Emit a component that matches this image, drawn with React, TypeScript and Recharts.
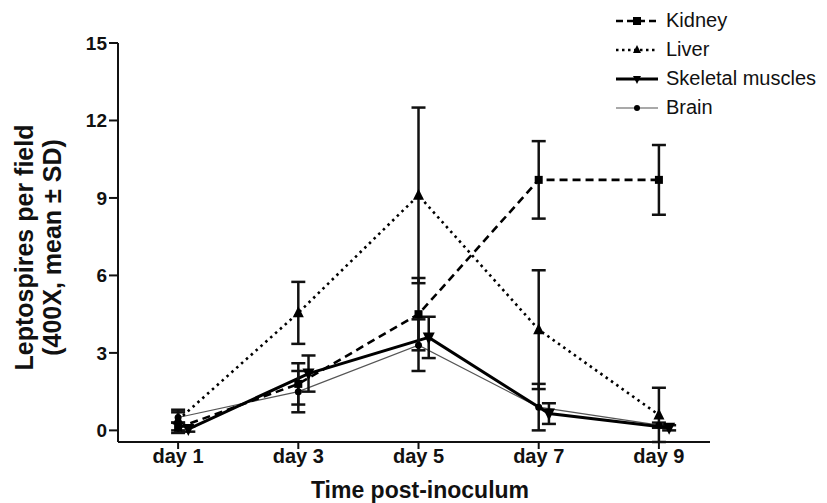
import React from "react";
import { LineChart, Line, XAxis, YAxis, ErrorBar } from "recharts";

const DAYS = [1, 3, 5, 7, 9];
const Y_TICKS = [0, 3, 6, 9, 12, 15];

const KIDNEY = [0.1, 1.8, 4.5, 9.7, 9.7];
const KIDNEY_SD = [0.2, 0.8, 1.4, 1.5, 1.35];
const LIVER = [0.4, 4.55, 9.1, 3.9, 0.6];
const LIVER_SD = [0.4, 1.2, 3.4, 2.3, 1.05];
const MUSCLE = [0.05, 2.2, 3.6, 0.65, 0.1];
const MUSCLE_SD = [0.1, 0.7, 0.8, 0.4, 0.1];
const BRAIN = [0.5, 1.5, 3.3, 0.9, 0.2];
const BRAIN_SD = [0.2, 0.8, 1.0, 0.9, 0.1];

// prism-style nudge so overlapping groups stay readable
const MUSCLE_SHIFT = 0.17;

const FONT = "Arial, 'Liberation Sans', Helvetica, sans-serif";

const build = (vals: number[], sds: number[], shift = 0) =>
  DAYS.map((d, i) => ({ x: d + shift, y: vals[i], sd: sds[i] }));

const kidneyData = build(KIDNEY, KIDNEY_SD);
const liverData = build(LIVER, LIVER_SD);
const muscleData = build(MUSCLE, MUSCLE_SD, MUSCLE_SHIFT);
const brainData = build(BRAIN, BRAIN_SD);

const Square = ({ cx, cy, s = 8 }: any) => <rect x={cx - s / 2} y={cy - s / 2} width={s} height={s} fill="#000" />;
const TriUp = ({ cx, cy, s = 11 }: any) => (
  <path d={`M${cx},${cy - s / 2 - 1} L${cx + s / 2},${cy + s / 2 - 1} L${cx - s / 2},${cy + s / 2 - 1} Z`} fill="#000" />
);
const TriDown = ({ cx, cy, s = 12 }: any) => (
  <path d={`M${cx - s / 2},${cy - s / 2 + 1} L${cx + s / 2},${cy - s / 2 + 1} L${cx},${cy + s / 2 + 1} Z`} fill="#000" />
);
const Dot = ({ cx, cy, r = 3.5 }: any) => <circle cx={cx} cy={cy} r={r} fill="#000" />;

const dotFn = (Shape: any) => (p: any) => <Shape key={`d-${p.index}`} cx={p.cx} cy={p.cy} />;

const LEGEND = [
  { name: "Kidney", dash: "7 4", width: 2.5, color: "#000", Shape: Square },
  { name: "Liver", dash: "2.5 3.5", width: 2.5, color: "#000", Shape: TriUp },
  { name: "Skeletal muscles", dash: undefined, width: 3, color: "#000", Shape: TriDown },
  { name: "Brain", dash: undefined, width: 1.2, color: "#555", Shape: Dot },
];

const ChartLegend = () => (
  <div style={{ position: "absolute", top: 6, left: 612, width: 215, overflow: "hidden", fontFamily: FONT }}>
    {LEGEND.map((l) => (
      <div key={l.name} style={{ display: "flex", alignItems: "center", height: 29, whiteSpace: "nowrap" }}>
        <svg width={50} height={20} style={{ flex: "none" }}>
          <line x1={4} x2={46} y1={10} y2={10} stroke={l.color} strokeWidth={l.width} strokeDasharray={l.dash} />
          <l.Shape cx={25} cy={10} s={8} r={3} />
        </svg>
        <span style={{ fontSize: 20, color: "#111", marginLeft: 4 }}>{l.name}</span>
      </div>
    ))}
  </div>
);

const YLabel = (props: any) => {
  const vb = props.viewBox || {};
  const cy = vb.y + vb.height / 2 + 5;
  return (
    <g>
      <text x={24} y={cy} transform={`rotate(-90 24 ${cy})`} textAnchor="middle" dominantBaseline="central"
        style={{ fontFamily: FONT, fontWeight: 700, fontSize: 25, fill: "#111" }}>
        Leptospires per field
      </text>
      <text x={52} y={cy} transform={`rotate(-90 52 ${cy})`} textAnchor="middle" dominantBaseline="central"
        style={{ fontFamily: FONT, fontWeight: 700, fontSize: 25, fill: "#111" }}>
        (400X, mean ± SD)
      </text>
    </g>
  );
};

const XLabel = (props: any) => {
  const vb = props.viewBox || {};
  return (
    <text x={420} y={vb.y + 48} textAnchor="middle" dominantBaseline="central"
      style={{ fontFamily: FONT, fontWeight: 700, fontSize: 23, fill: "#111" }}>
      Time post-inoculum
    </text>
  );
};

const tickStyle = { fontFamily: FONT, fontWeight: 700, fontSize: 19, fill: "#111" };

export default function App() {
  return (
    <div style={{ position: "absolute", left: 0, top: 0, width: 827, height: 503, background: "#fff" }}>
      <LineChart width={827} height={503} margin={{ top: 43, right: 117, left: 0, bottom: 0 }}>
        <XAxis
          type="number"
          dataKey="x"
          domain={[0, 9.85]}
          ticks={DAYS}
          tickFormatter={(v) => `day ${v}`}
          allowDataOverflow
          height={61}
          stroke="#111"
          strokeWidth={2}
          tickSize={7}
          tickMargin={0}
          tick={{ ...tickStyle, fontSize: 20 }}
          label={{ content: XLabel }}
        />
        <YAxis
          type="number"
          dataKey="y"
          domain={[0, 15]}
          ticks={Y_TICKS}
          width={118}
          stroke="#111"
          strokeWidth={2}
          tickSize={9}
          tickMargin={2}
          tick={tickStyle}
          label={{ content: YLabel }}
        />
        <Line data={brainData} dataKey="y" name="Brain" stroke="#555" strokeWidth={1.2}
          dot={dotFn(Dot)} isAnimationActive={false}>
          <ErrorBar dataKey="sd" direction="y" width={7} stroke="#111" strokeWidth={2.5} />
        </Line>
        <Line data={muscleData} dataKey="y" name="Skeletal muscles" stroke="#000" strokeWidth={3}
          dot={dotFn(TriDown)} isAnimationActive={false}>
          <ErrorBar dataKey="sd" direction="y" width={7} stroke="#111" strokeWidth={2.5} />
        </Line>
        <Line data={liverData} dataKey="y" name="Liver" stroke="#000" strokeWidth={2.6} strokeDasharray="2.5 4"
          dot={dotFn(TriUp)} isAnimationActive={false}>
          <ErrorBar dataKey="sd" direction="y" width={7} stroke="#111" strokeWidth={2.5} />
        </Line>
        <Line data={kidneyData} dataKey="y" name="Kidney" stroke="#000" strokeWidth={2.6} strokeDasharray="8 5"
          dot={dotFn(Square)} isAnimationActive={false}>
          <ErrorBar dataKey="sd" direction="y" width={7} stroke="#111" strokeWidth={2.5} />
        </Line>
      </LineChart>
      <ChartLegend />
    </div>
  );
}
